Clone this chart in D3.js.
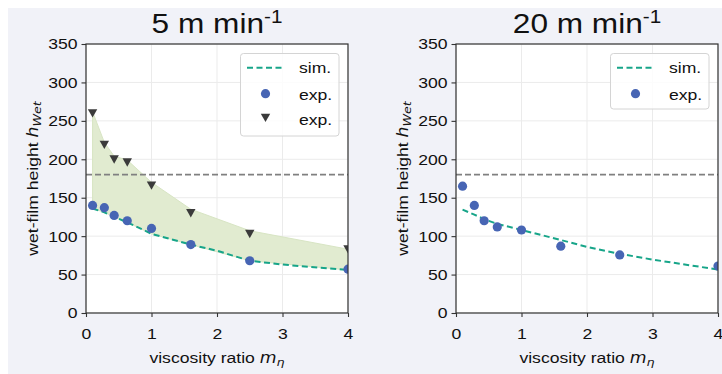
<!DOCTYPE html>
<html>
<head>
<meta charset="utf-8">
<script src="https://cdn.jsdelivr.net/npm/d3@7"></script>
<style>
  html, body { margin: 0; padding: 0; background: #ffffff; }
  svg { display: block; }
</style>
</head>
<body>
<svg id="chart" width="722" height="374"></svg>
<script>
// ---------- data ----------
const xTicks = [0, 1, 2, 3, 4];
const yTicks = [0, 50, 100, 150, 200, 250, 300, 350];
const refHeight = 180;

// viscosity ratios of the experiments
const mEta = [0.1, 0.28, 0.43, 0.63, 1.0, 1.6, 2.5, 4.0];
// viscosity ratios of the simulation
const simX = [0.1, 0.28, 0.43, 0.63, 1.0, 1.6, 2.0, 2.5, 3.0, 4.0];

// 5 m/min
const sim5 = [136, 131, 125, 118, 103, 89, 81, 68, 63, 56];
const expCircle5 = [140, 137, 127, 120, 110, 89, 68, 57];
const expTriangle5 = [260, 219, 200, 196, 166, 130, 103, 83];
const bandUpper5 = [262, 222, 204, 199, 170, 135, 107, 83];
const bandLower5 = [136, 131, 125, 118, 103, 89, 68, 56];

// 20 m/min
const sim20 = [134.5, 128, 122, 116, 108, 95, 86, 77, 69.5, 56.5];
const expCircle20 = [165, 140, 120, 112, 108, 87, 75.5, 61];

const titles = [["5 m min", "-1"], ["20 m min", "-1"]];
const legendLabels = ["sim.", "exp.", "exp."];

// ---------- style ----------
const FONT = "'Liberation Sans', Arial, Helvetica, sans-serif";
const SX = 1.15;           // horizontal glyph stretch
const TXT = "#111111";
const C_SIM = "#17a589";
const C_CIRC = "#4765b4";
const C_TRI = "#3b3b3b";
const C_BAND = "rgb(225,235,208)";
const C_REF = "#808080";

const svg = d3.select("#chart");
svg.append("rect").attr("x", 8).attr("y", 8).attr("width", 714).attr("height", 366).attr("fill", "#f1f2f8");

const y = d3.scaleLinear().domain([0, 350]).range([313, 44]);

function sText(g, x, yy, parts, opt = {}) {
  const t = g.append("text")
    .attr("transform", `translate(${x},${yy}) rotate(${opt.rotate || 0}) scale(${SX},1)`)
    .attr("font-family", FONT)
    .attr("font-size", opt.size || 15.3)
    .attr("fill", TXT)
    .attr("text-anchor", opt.anchor || "start");
  parts.forEach(p => {
    const ts = t.append("tspan").text(p.t);
    if (p.size) ts.attr("font-size", p.size);
    if (p.dy) ts.attr("dy", p.dy);
    if (p.italic) ts.attr("font-style", "italic").attr("font-family", p.family || FONT);
  });
  return t;
}

function panel(idx, x0, x1, cfg) {
  const x = d3.scaleLinear().domain([0, 4]).range([x0, x1]);
  const g = svg.append("g");
  const clipId = "clip" + idx;
  svg.append("clipPath").attr("id", clipId).append("rect")
    .attr("x", x0).attr("y", 44).attr("width", x1 - x0).attr("height", 313 - 44);

  g.append("rect").attr("x", x0).attr("y", 44).attr("width", x1 - x0).attr("height", 269).attr("fill", "#ffffff");

  // grid
  g.append("g").selectAll("line").data(xTicks).join("line")
    .attr("x1", d => x(d)).attr("x2", d => x(d)).attr("y1", 44).attr("y2", 313)
    .attr("stroke", "#ebebeb").attr("stroke-width", 1);
  g.append("g").selectAll("line").data(yTicks).join("line")
    .attr("x1", x0).attr("x2", x1).attr("y1", d => y(d)).attr("y2", d => y(d))
    .attr("stroke", "#ebebeb").attr("stroke-width", 1);

  const plot = g.append("g").attr("clip-path", `url(#${clipId})`);

  if (cfg.bandUpper) {
    const area = d3.area().x((d, i) => x(mEta[i])).y0((d, i) => y(cfg.bandLower[i])).y1(d => y(d));
    plot.append("path").datum(cfg.bandUpper).attr("d", area)
      .attr("fill", C_BAND).attr("stroke", "rgb(216,229,196)").attr("stroke-width", 1);
  }

  // reference line
  plot.append("line").attr("x1", x0).attr("x2", x1).attr("y1", y(refHeight)).attr("y2", y(refHeight))
    .attr("stroke", C_REF).attr("stroke-width", 1.6).attr("stroke-dasharray", "6,3");

  // sim line
  const line = d3.line().x((d, i) => x(simX[i])).y(d => y(d));
  plot.append("path").datum(cfg.sim).attr("d", line)
    .attr("fill", "none").attr("stroke", C_SIM).attr("stroke-width", 2).attr("stroke-dasharray", "6,3.5");

  // circles
  plot.append("g").selectAll("circle").data(cfg.circ).join("circle")
    .attr("cx", (d, i) => x(mEta[i])).attr("cy", d => y(d)).attr("r", 4.6).attr("fill", C_CIRC);

  // triangles
  const tri = "M-4.7,-4 L4.7,-4 L0,4.4 Z";
  if (cfg.tri) {
    plot.append("g").selectAll("path").data(cfg.tri).join("path")
      .attr("d", tri).attr("transform", (d, i) => `translate(${x(mEta[i])},${y(d)})`).attr("fill", C_TRI);
  }

  // axes
  const ax = g.append("g").attr("transform", "translate(0,313)")
    .call(d3.axisBottom(x).tickValues(xTicks).tickFormat(d3.format("d")).tickSize(4).tickPadding(11.5));
  ax.selectAll("text").attr("font-family", FONT).attr("font-size", 15.3).attr("fill", TXT)
    .attr("transform", `scale(${SX},1)`);
  const ay = g.append("g").attr("transform", `translate(${x0},0)`)
    .call(d3.axisLeft(y).tickValues(yTicks).tickFormat(d3.format("d")).tickSize(4.5).tickPadding(4));
  ay.selectAll("text").attr("font-family", FONT).attr("font-size", 15.3).attr("fill", TXT)
    .attr("x", -8.5 / SX).attr("transform", `scale(${SX},1)`);
  [ax, ay].forEach(a => {
    a.select(".domain").remove();
    a.selectAll(".tick line").attr("stroke", "#333").attr("stroke-width", 1.1);
  });

  // spines
  g.append("rect").attr("x", x0).attr("y", 44).attr("width", x1 - x0).attr("height", 269)
    .attr("fill", "none").attr("stroke", "#333").attr("stroke-width", 1.2);

  // title
  sText(g, (x0 + x1) / 2, 33, [{t: cfg.title[0]}, {t: cfg.title[1], size: 18, dy: -10}], {size: 27.5, anchor: "middle"});

  // x label
  sText(g, (x0 + x1) / 2, 363, [
    {t: "viscosity ratio "},
    {t: "m", italic: true, family: "'DejaVu Sans', sans-serif", size: 15},
    {t: "η", italic: true, family: "'DejaVu Sans', sans-serif", size: 11, dy: 3}
  ], {anchor: "middle"});

  // y label
  sText(g, cfg.ylabX, 178.5, [
    {t: "wet-film height "},
    {t: "h", italic: true, family: "'DejaVu Sans', sans-serif", size: 15},
    {t: "Wet", italic: true, family: "'DejaVu Sans', sans-serif", size: 11, dy: 3}
  ], {anchor: "middle", rotate: -90});

  // legend
  const lx = cfg.legX, lw = 98.5, lh = cfg.tri ? 82.5 : 55.5;
  const L = g.append("g");
  L.append("rect").attr("x", lx).attr("y", 53.5).attr("width", lw).attr("height", lh).attr("rx", 3)
    .attr("fill", "#ffffff").attr("fill-opacity", 0.85).attr("stroke", "#d4d4d4").attr("stroke-width", 1);
  L.append("line").attr("x1", lx + 6.5).attr("x2", lx + 42.5).attr("y1", 67.7).attr("y2", 67.7)
    .attr("stroke", C_SIM).attr("stroke-width", 2).attr("stroke-dasharray", "6,3.5");
  sText(L, lx + 58.5, 73.3, [{t: legendLabels[0]}]);
  L.append("circle").attr("cx", lx + 25).attr("cy", 93.7).attr("r", 4.6).attr("fill", C_CIRC);
  sText(L, lx + 58.5, 99.5, [{t: legendLabels[1]}]);
  if (cfg.tri) {
    L.append("path").attr("d", tri).attr("transform", `translate(${lx + 25},117.7)`).attr("fill", C_TRI);
    sText(L, lx + 58.5, 125, [{t: legendLabels[2]}]);
  }
}

panel(0, 86, 348, {sim: sim5, circ: expCircle5, tri: expTriangle5, bandUpper: bandUpper5, bandLower: bandLower5,
  title: titles[0], ylabX: 37.5, legX: 240.5});
panel(1, 456, 718, {sim: sim20, circ: expCircle20, title: titles[1], ylabX: 407.5, legX: 610.5});
</script>
</body>
</html>
